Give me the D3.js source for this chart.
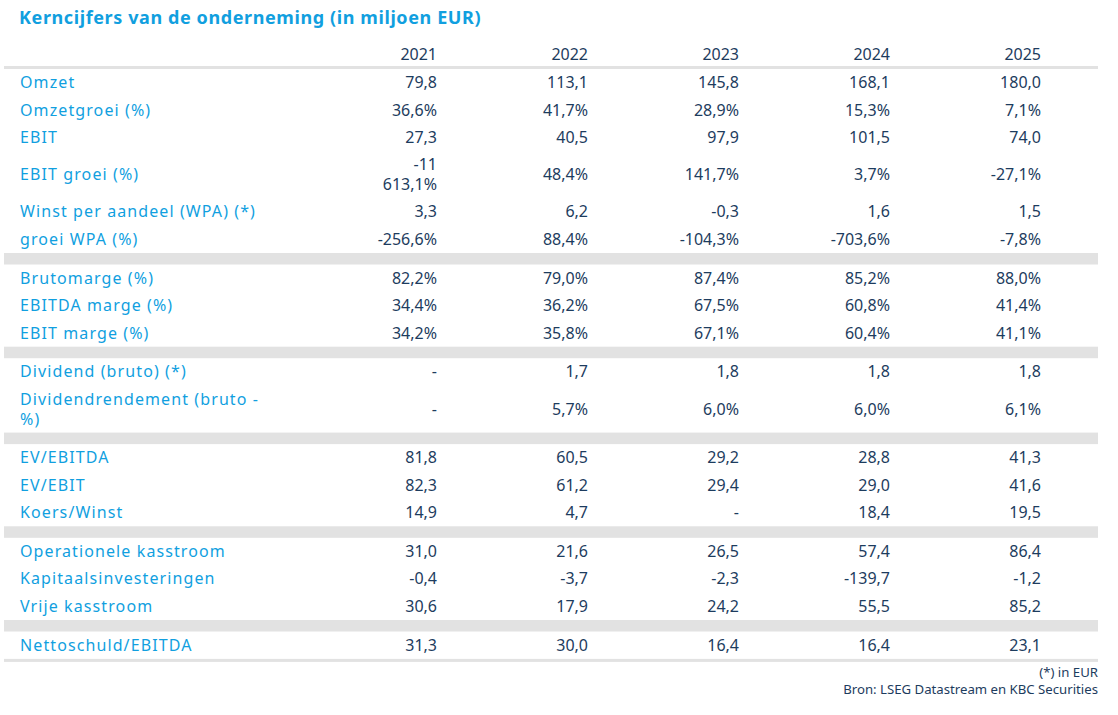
<!DOCTYPE html>
<html><head><meta charset="utf-8">
<script src="https://cdn.jsdelivr.net/npm/d3@7/dist/d3.min.js"></script>
<style>
html,body{margin:0;padding:0;background:#fff;}
svg{display:block;}
</style></head>
<body>
<svg id="c" width="1118" height="715"></svg>
<script>
const title = "Kerncijfers van de onderneming (in miljoen EUR)";
const years = ["2021", "2022", "2023", "2024", "2025"];
const labels = [
  "Omzet", "Omzetgroei (%)", "EBIT", "EBIT groei (%)", "Winst per aandeel (WPA) (*)", "groei WPA (%)",
  "Brutomarge (%)", "EBITDA marge (%)", "EBIT marge (%)",
  "Dividend (bruto) (*)", "Dividendrendement (bruto -\n%)",
  "EV/EBITDA", "EV/EBIT", "Koers/Winst",
  "Operationele kasstroom", "Kapitaalsinvesteringen", "Vrije kasstroom",
  "Nettoschuld/EBITDA"
];
const groupSizes = [6, 3, 2, 3, 3, 1];
const v2021 = ["79,8","36,6%","27,3","-11\n613,1%","3,3","-256,6%","82,2%","34,4%","34,2%","-","-","81,8","82,3","14,9","31,0","-0,4","30,6","31,3"];
const v2022 = ["113,1","41,7%","40,5","48,4%","6,2","88,4%","79,0%","36,2%","35,8%","1,7","5,7%","60,5","61,2","4,7","21,6","-3,7","17,9","30,0"];
const v2023 = ["145,8","28,9%","97,9","141,7%","-0,3","-104,3%","87,4%","67,5%","67,1%","1,8","6,0%","29,2","29,4","-","26,5","-2,3","24,2","16,4"];
const v2024 = ["168,1","15,3%","101,5","3,7%","1,6","-703,6%","85,2%","60,8%","60,4%","1,8","6,0%","28,8","29,0","18,4","57,4","-139,7","55,5","16,4"];
const v2025 = ["180,0","7,1%","74,0","-27,1%","1,5","-7,8%","88,0%","41,4%","41,1%","1,8","6,1%","41,3","41,6","19,5","86,4","-1,2","85,2","23,1"];
const columns = [v2021, v2022, v2023, v2024, v2025];
const footnotes = ["(*) in EUR", "Bron: LSEG Datastream en KBC Securities"];

const BLUE = "#119fdf", NAVY = "#1d3c5e", GREY = "#e2e2e2";
const FONT = "'Noto Sans', 'Open Sans', sans-serif";
const left = 4, right = 1098;
const labelX = 20;
const singleH = 27.4, doubleH = 47, bandH = 11.5, lineGap = 20, fs = 16;

const svg = d3.select("#c").style("font-family", FONT);

const x = d3.scalePoint().domain(years).range([437, 1041]);

svg.append("text").attr("x", 19).attr("y", 24)
  .attr("fill", BLUE).attr("font-weight", "bold").attr("font-size", 18)
  .attr("letter-spacing", 0.6).text(title);

svg.append("g").selectAll("text").data(years).join("text")
  .attr("x", d => x(d)).attr("y", 60).attr("text-anchor", "end")
  .attr("fill", NAVY).attr("font-size", fs).text(d => d);

svg.append("rect").attr("x", left).attr("y", 66).attr("width", right - left).attr("height", 3).attr("fill", GREY);

let y = 69;
let idx = 0;
const rowsLayout = [];
groupSizes.forEach((n, gi) => {
  for (let k = 0; k < n; k++, idx++) {
    const cells = [labels[idx], ...columns.map(c => c[idx])];
    const dbl = cells.some(s => s.includes("\n"));
    const h = dbl ? doubleH : singleH;
    rowsLayout.push({i: idx, top: y, h: h});
    y += h;
  }
  if (gi < groupSizes.length - 1) {
    svg.append("rect").attr("x", left).attr("y", y).attr("width", right - left).attr("height", bandH).attr("fill", GREY);
    y += bandH;
  } else {
    svg.append("rect").attr("x", left).attr("y", y).attr("width", right - left).attr("height", 3).attr("fill", GREY);
  }
});

function drawCell(g, str, cx, cy, anchor, color, ls) {
  const lines = str.split("\n");
  const t = g.append("text").attr("text-anchor", anchor).attr("fill", color)
    .attr("font-size", fs).attr("letter-spacing", ls);
  lines.forEach((ln, li) => {
    t.append("tspan").attr("x", cx)
      .attr("y", cy + 5.5 + (li - (lines.length - 1) / 2) * lineGap).text(ln);
  });
}

const body = svg.append("g");
rowsLayout.forEach(r => {
  const cy = r.top + r.h / 2;
  drawCell(body, labels[r.i], labelX, cy, "start", BLUE, 1.1);
  years.forEach((yr, j) => drawCell(body, columns[j][r.i], x(yr), cy, "end", NAVY, 0));
});

svg.append("g").selectAll("text").data(footnotes).join("text")
  .attr("x", right).attr("y", (d, i) => 677 + i * 16.5).attr("text-anchor", "end")
  .attr("fill", NAVY).attr("font-size", 13.2).text(d => d);
</script>
</body></html>
